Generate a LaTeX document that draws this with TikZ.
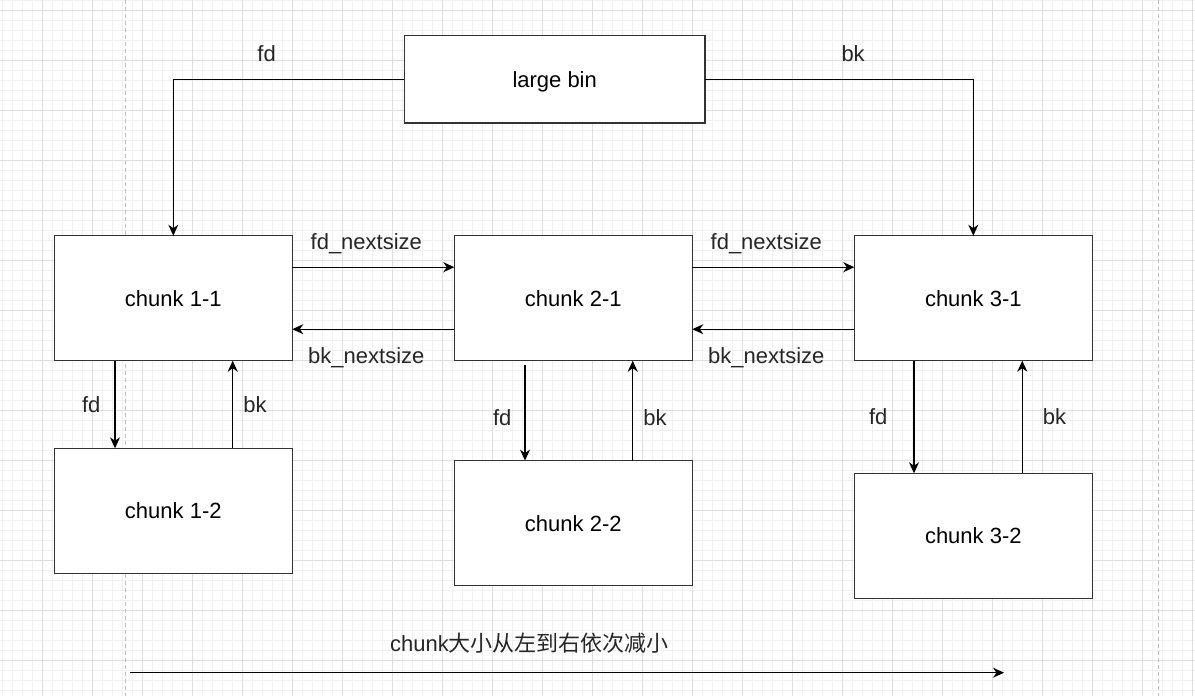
\documentclass[tikz,border=0pt]{standalone}
\usepackage{fontspec}
\setmainfont{Liberation Sans}
\newfontfamily\cjkfont{Noto Sans CJK SC}
\usetikzlibrary{arrows.meta,calc,positioning}

\begin{document}
\begin{tikzpicture}[
            x=1pt, y=-1pt,
            font=\fontsize{22}{26}\selectfont,
            chunkbox/.style={draw=black!80, line width=1.3pt, fill=white,
                minimum width=238pt, minimum height=125pt,
                inner sep=0pt, outer sep=0pt, text depth=0pt,
            },
            binbox/.style={chunkbox, minimum width=300.7pt, minimum height=87.7pt},
            link/.style={line width=1.2pt, draw=black,
                -{Stealth[length=11pt, width=10pt, inset=3.5pt]},
            },
            lbl/.style={inner sep=0pt, text=black!85},
            minorgrid/.style={draw=black!6, line width=0.8pt},
            majorgrid/.style={draw=black!13, line width=0.9pt},
            pageedge/.style={draw=black!25, line width=1pt, dash pattern=on 4pt off 3pt},
        ]
            % page and grid
            \fill[white] (0,0) rectangle (1195,696);
            \useasboundingbox (0,0) rectangle (1195,696);
            \foreach \gx in {2.3,12.3,...,1195} \draw[minorgrid] (\gx,0) -- (\gx,696);
            \foreach \gy in {0,10,...,696} \draw[minorgrid] (0,\gy) -- (1195,\gy);
            \foreach \gx in {42.3,92.3,...,1195} \draw[majorgrid] (\gx,0) -- (\gx,696);
            \foreach \gy in {10,60,...,696} \draw[majorgrid] (0,\gy) -- (1195,\gy);
            \draw[pageedge] (125,0) -- (125,696);
            \draw[pageedge] (1158,0) -- (1158,696);

            % bin and chunks
            \node[binbox] (bin) at (554.7,79.2) {large bin};
            \node[chunkbox] (c11) at (173.3,298.2) {chunk 1-1};
            \node[chunkbox, right=162pt of c11] (c21) {chunk 2-1};
            \node[chunkbox, right=162pt of c21] (c31) {chunk 3-1};
            \node[chunkbox, below=87.6pt of c11] (c12) {chunk 1-2};
            \node[chunkbox, below=99.9pt of c21] (c22) {chunk 2-2};
            \node[chunkbox, below=112.6pt of c31] (c32) {chunk 3-2};

            % bin links
            \draw[link] (bin.west) -| node[lbl, pos=0.298, above=17pt] {fd} (c11.north);
            \draw[link] (bin.east) -| node[lbl, pos=0.276, above=17pt] {bk} (c31.north);

            % nextsize links
            \draw[link] ([yshift=31pt]c11.east) -- node[lbl, above=13pt, xshift=-7pt] {fd\_nextsize} ([yshift=31pt]c21.west);
            \draw[link] ([yshift=-31pt]c21.west) -- node[lbl, below=18pt, xshift=-7pt] {bk\_nextsize} ([yshift=-31pt]c11.east);
            \draw[link] ([yshift=31pt]c21.east) -- node[lbl, above=13pt, xshift=-7pt] {fd\_nextsize} ([yshift=31pt]c31.west);
            \draw[link] ([yshift=-31pt]c31.west) -- node[lbl, below=18pt, xshift=-7pt] {bk\_nextsize} ([yshift=-31pt]c21.east);

            % fd / bk links
            \draw[link] ([xshift=-58.3pt]c11.south) -- node[lbl, left=14pt] {fd} ([xshift=-58.3pt]c12.north);
            \draw[link] ([xshift=59.4pt]c12.north) -- node[lbl, right=10pt] {bk} ([xshift=59.4pt]c11.south);
            \draw[link] ([xshift=-48.3pt, yshift=-4pt]c21.south) -- node[lbl, left=13pt, yshift=-5pt] {fd} ([xshift=-48.3pt]c22.north);
            \draw[link] ([xshift=59.4pt]c22.north) -- node[lbl, right=10pt, yshift=-7pt] {bk} ([xshift=59.4pt]c21.south);
            \draw[link] ([xshift=-59.3pt]c31.south) -- node[lbl, left=26pt] {fd} ([xshift=-59.3pt]c32.north);
            \draw[link] ([xshift=49pt]c32.north) -- node[lbl, right=20pt] {bk} ([xshift=49pt]c31.south);

            % size order
            \coordinate (sizeL) at (130,672.7);
            \coordinate (sizeR) at (1004,672.7);
            \draw[link] (sizeL) -- (sizeR);
            \node[lbl] (order) at (529.5,643) {chunk{\cjkfont 大小从左到右依次减小}};
        \end{tikzpicture}
\end{document}
